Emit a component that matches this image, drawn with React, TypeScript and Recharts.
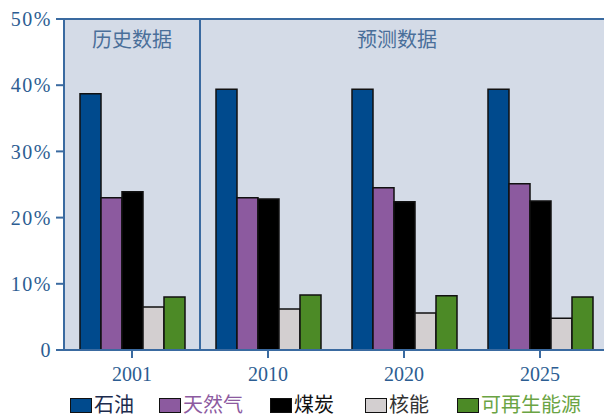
import {
  Bar,
  BarChart,
  CartesianGrid,
  ReferenceArea,
  ReferenceLine,
  XAxis,
  YAxis,
} from 'recharts'

// 能源结构占比（%），按年份分组
const years = ['2001', '2010', '2020', '2025']
const oil = [38.7, 39.4, 39.4, 39.4]
const gas = [23.0, 23.0, 24.5, 25.1]
const coal = [23.9, 22.8, 22.4, 22.5]
const nuclear = [6.5, 6.2, 5.6, 4.8]
const renewable = [8.0, 8.3, 8.2, 8.0]
const yTicks = [0, 10, 20, 30, 40, 50]

const series = [
  { key: 'oil', name: '石油', fill: '#004a8d', text: '#1c2b4d' },
  { key: 'gas', name: '天然气', fill: '#8c5a9f', text: '#8c5a9f' },
  { key: 'coal', name: '煤炭', fill: '#000000', text: '#111111' },
  { key: 'nuclear', name: '核能', fill: '#d3cfd0', text: '#333333' },
  { key: 'renewable', name: '可再生能源', fill: '#4c8a26', text: '#6aa443' },
]

const data = years.map((y, i) => ({
  year: y,
  oil: oil[i],
  gas: gas[i],
  coal: coal[i],
  nuclear: nuclear[i],
  renewable: renewable[i],
}))

const AXIS = '#3a6aa0'
const FONT = "'Liberation Serif', 'Noto Sans CJK SC', serif"

function LegendRow() {
  const gaps = [25, 27, 31, 28, 0]
  return (
    <div
      style={{
        position: 'absolute',
        left: 70,
        top: 394,
        display: 'flex',
        alignItems: 'center',
        whiteSpace: 'nowrap',
        fontFamily: FONT,
        fontSize: 20,
        lineHeight: '22px',
      }}
    >
      {series.map((s, i) => (
        <div
          key={s.key}
          style={{ display: 'flex', alignItems: 'center', marginRight: gaps[i] }}
        >
          <span
            style={{
              display: 'inline-block',
              width: 20,
              height: 13,
              background: s.fill,
              border: '1.5px solid #111',
              marginRight: 2,
            }}
          />
          <span style={{ color: s.text }}>{s.name}</span>
        </div>
      ))}
    </div>
  )
}

export default function App() {
  return (
    <div
      style={{
        position: 'relative',
        width: 604,
        height: 416,
        overflow: 'hidden',
        background: '#fff',
      }}
    >
      <style>{'body{margin:0}'}</style>
      <BarChart
        width={612}
        height={416}
        data={data}
        margin={{ top: 19, right: 4, bottom: 26, left: 0 }}
        barCategoryGap={16}
        barGap={0}
      >
        <CartesianGrid horizontal={false} vertical={false} fill="#d4dbe7" />
        <XAxis
          dataKey="year"
          height={40}
          axisLine={{ stroke: AXIS, strokeWidth: 2 }}
          tickLine={{ stroke: AXIS, strokeWidth: 2 }}
          tickSize={8}
          tickMargin={9}
          tick={{ fontSize: 20, fill: '#2c5d92', fontFamily: FONT }}
        />
        <YAxis
          width={64}
          domain={[0, 50]}
          ticks={yTicks}
          interval={0}
          axisLine={{ stroke: AXIS, strokeWidth: 2 }}
          tickLine={{ stroke: AXIS, strokeWidth: 2 }}
          tickSize={8}
          tickMargin={4}
          tickFormatter={(v: number) => (v === 0 ? '0' : `${v}%`)}
          tick={{ fontSize: 20, fill: '#2c5d92', fontFamily: FONT, letterSpacing: 1.5 }}
        />
        <ReferenceLine y={50} stroke={AXIS} strokeWidth={2} />
        <ReferenceLine x="2001" position="end" stroke={AXIS} strokeWidth={2} />
        <ReferenceArea
          x1="2001"
          x2="2001"
          fill="none"
          fillOpacity={0}
          label={{
            value: '历史数据',
            position: 'insideTop',
            offset: 14,
            fill: '#4a6f9a',
            fontSize: 20,
            fontFamily: FONT,
          }}
        />
        <ReferenceArea
          x1="2010"
          x2="2025"
          fill="none"
          fillOpacity={0}
          label={{
            value: '预测数据',
            position: 'insideTop',
            offset: 14,
            dx: -7,
            fill: '#4a6f9a',
            fontSize: 20,
            fontFamily: FONT,
          }}
        />
        {series.map((s) => (
          <Bar
            key={s.key}
            dataKey={s.key}
            name={s.name}
            fill={s.fill}
            stroke="#111"
            strokeWidth={1.5}
            isAnimationActive={false}
          />
        ))}
      </BarChart>
      <LegendRow />
    </div>
  )
}
